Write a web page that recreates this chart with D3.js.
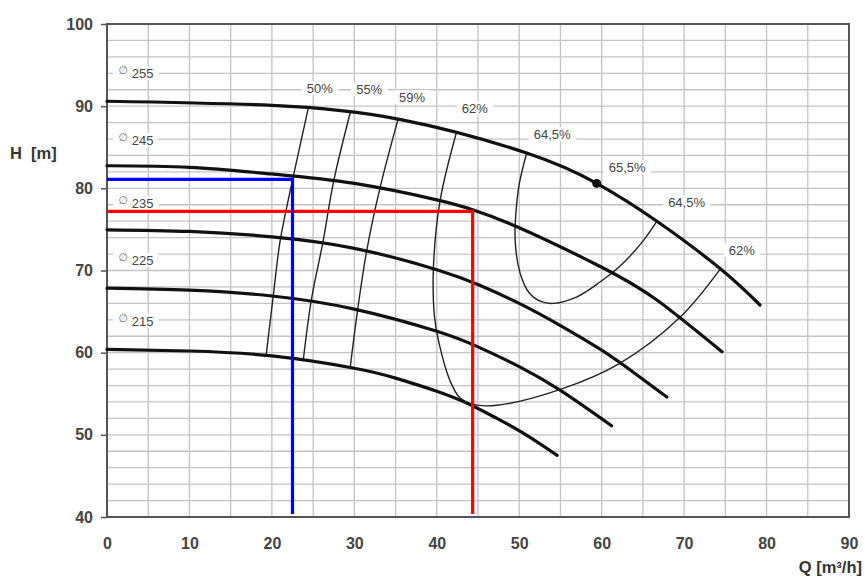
<!DOCTYPE html>
<html>
<head>
<meta charset="utf-8">
<script src="https://cdn.jsdelivr.net/npm/d3@7"></script>
<style>
  body { margin: 0; background: #fff; }
  text { font-family: "Liberation Sans", Arial, sans-serif; }
</style>
</head>
<body>
<svg id="chart" width="865" height="581"></svg>
<script>
// Axis ticks
const xTicks = [0, 10, 20, 30, 40, 50, 60, 70, 80, 90];
const yTicks = [40, 50, 60, 70, 80, 90, 100];

// Impeller diameters and their H–Q curves [Q m³/h, H m]
const diameters = ["255", "245", "235", "225", "215"];
const curve255 = [[0, 90.6], [20, 90.1], [35.5, 88.4], [50.9, 84.3], [59.4, 80.6], [66.7, 76.0], [74.4, 70.2], [79.2, 65.8]];
const curve245 = [[0, 82.75], [10, 82.55], [20, 81.75], [30, 80.6], [40, 78.6], [44.35, 77.4], [50, 75.2], [60, 70.4], [66.7, 66.4], [74.6, 60.1]];
const curve235 = [[0, 74.95], [10, 74.75], [20, 74.1], [30, 72.7], [40, 70.1], [45.2, 68.2], [50, 66.0], [55, 63.3], [60, 60.3], [64, 57.5], [67.9, 54.6]];
const curve225 = [[0, 67.85], [10, 67.6], [20, 66.9], [30, 65.3], [40, 62.6], [45, 60.7], [50, 58.3], [55, 55.4], [61.2, 51.1]];
const curve215 = [[0, 60.4], [10, 60.2], [20, 59.6], [30, 58.1], [35, 56.9], [40, 55.3], [44, 53.7], [47.3, 52.0], [50.5, 50.2], [54.6, 47.5]];
const hqCurves = [curve255, curve245, curve235, curve225, curve215];
// Diameter label anchors [Q, H]
const diameterLabelPos = [[1.35, 94.0], [1.35, 85.9], [1.35, 78.2], [1.35, 71.3], [1.35, 63.9]];

// Iso-efficiency lines [Q, H]
const eff50 = [[24.4, 89.7], [22.6, 81.45], [21.0, 73.6], [20.2, 67.2], [19.3, 59.65]];
const eff55 = [[29.5, 89.2], [27.5, 80.9], [26.2, 73.5], [24.8, 66.5], [23.8, 59.05]];
const eff59 = [[35.3, 88.4], [33.1, 80.0], [31.5, 72.4], [30.4, 65.2], [29.5, 58.2]];
const eff62 = [[42.4, 86.85], [40.4, 78.5], [39.6, 70.5], [39.7, 64.6], [40.2, 61.5], [41.6, 56.6], [42.8, 54.5], [44.4, 53.7], [47.3, 53.6], [54.9, 55.5], [62.2, 58.7], [69.5, 64.3], [74.4, 70.2]];
const eff645 = [[50.9, 84.3], [50.0, 80.5], [49.6, 77.0], [49.5, 73.7], [50.1, 69.7], [51.2, 67.3], [52.7, 66.2], [54.2, 66.0], [57.0, 66.8], [59.8, 68.6], [62.3, 70.6], [65.1, 73.7], [66.7, 76.0]];
const effLines = [eff50, eff55, eff59, eff62, eff645];

// Efficiency labels and anchors [Q, H]
const effLabels = ["50%", "55%", "59%", "62%", "64,5%", "65,5%", "64,5%", "62%"];
const effLabelPos = [[25.8, 92.2], [31.8, 92.05], [37.0, 91.1], [44.6, 89.75], [54.0, 86.6], [63.1, 82.55], [70.3, 78.3], [77.0, 72.5]];

// Best efficiency point on the 255 curve
const bep = [59.4, 80.6];

// Duty points: [Q, H]
const dutyBlue = [22.5, 81.1];
const dutyRed = [44.35, 77.2];

const svg = d3.select("#chart");
const plotLeft = 107, plotRight = 849, plotTop = 24, plotBottom = 517;

const x = d3.scaleLinear().domain([0, 90]).range([plotLeft, plotRight]);
const y = d3.scaleLinear().domain([40, 100]).range([plotBottom, plotTop]);

// Grid
const grid = svg.append("g").attr("stroke", "#c4c4c4").attr("stroke-width", 1.3);
grid.selectAll(".gx").data(d3.range(5, 90, 5)).join("line")
  .attr("x1", d => x(d)).attr("x2", d => x(d))
  .attr("y1", plotTop).attr("y2", plotBottom);
grid.selectAll(".gy").data(d3.range(42, 100, 2)).join("line")
  .attr("x1", plotLeft).attr("x2", plotRight)
  .attr("y1", d => y(d)).attr("y2", d => y(d));

// Frame
svg.append("rect").attr("x", plotLeft).attr("y", plotTop)
  .attr("width", plotRight - plotLeft).attr("height", plotBottom - plotTop)
  .attr("fill", "none").attr("stroke", "#555").attr("stroke-width", 2);

// Y axis
const yAxis = svg.append("g").attr("transform", `translate(${plotLeft},0)`)
  .call(d3.axisLeft(y).tickValues(yTicks).tickSize(6).tickPadding(8));
yAxis.select(".domain").remove();
yAxis.selectAll("line").attr("stroke", "#555").attr("stroke-width", 1.5);
yAxis.selectAll("text").attr("font-size", 16).attr("font-weight", "bold").attr("fill", "#444")
  .style("font-family", "'Liberation Sans', Arial, sans-serif");

// X axis
const xAxis = svg.append("g").attr("transform", `translate(0,${plotBottom})`)
  .call(d3.axisBottom(x).tickValues(xTicks).tickSize(0).tickPadding(21));
xAxis.select(".domain").remove();
xAxis.selectAll("text").attr("font-size", 16).attr("font-weight", "bold").attr("fill", "#444")
  .style("font-family", "'Liberation Sans', Arial, sans-serif");

// Axis titles
svg.append("text").attr("x", 10).attr("y", 159)
  .attr("font-size", 16.5).attr("font-weight", "bold").attr("fill", "#333")
  .attr("xml:space", "preserve").style("white-space", "pre")
  .text("H  [m]");
svg.append("text").attr("x", 862).attr("y", 573).attr("text-anchor", "end")
  .attr("font-size", 16.5).attr("font-weight", "bold").attr("fill", "#333")
  .text("Q [m³/h]");

// Labels with white boxes over the grid
function boxedLabel(g, cy, build) {
  const grp = g.append("g");
  const rect = grp.append("rect").attr("fill", "#fff");
  const t = build(grp);
  const bb = t.node().getBBox();
  rect.attr("x", bb.x - 5).attr("y", cy - 7).attr("width", bb.width + 10).attr("height", 14);
  return grp;
}

const labels = svg.append("g");
effLabels.forEach((s, i) => {
  const cx = x(effLabelPos[i][0]), cy = y(effLabelPos[i][1]);
  boxedLabel(labels, cy, g => g.append("text")
    .attr("x", cx).attr("y", cy).attr("dy", "0.36em").attr("text-anchor", "middle")
    .attr("font-size", 13).attr("fill", "#444").text(s));
});
diameters.forEach((s, i) => {
  const lx = x(diameterLabelPos[i][0]), cy = y(diameterLabelPos[i][1]);
  boxedLabel(labels, cy, g => {
    const t = g.append("text").attr("x", lx).attr("y", cy).attr("fill", "#444");
    t.append("tspan").attr("font-size", 11).attr("dy", 1)
      .style("font-family", "'DejaVu Sans', sans-serif").attr("fill", "#777").text("∅");
    t.append("tspan").attr("font-size", 13).attr("dx", 4).attr("dy", 4).text(s);
    return t;
  });
});

// Iso-efficiency lines
const effLine = d3.line().x(d => x(d[0])).y(d => y(d[1])).curve(d3.curveCatmullRom.alpha(0.5));
svg.append("g").selectAll("path").data(effLines).join("path")
  .attr("d", effLine).attr("fill", "none").attr("stroke", "#222").attr("stroke-width", 1.4);

// H–Q curves
const hqLine = d3.line().x(d => x(d[0])).y(d => y(d[1])).curve(d3.curveNatural);
svg.append("g").selectAll("path").data(hqCurves).join("path")
  .attr("d", hqLine).attr("fill", "none").attr("stroke", "#111")
  .attr("stroke-width", 3.2).attr("stroke-linecap", "round");

// Best efficiency point
svg.append("circle").attr("cx", x(bep[0])).attr("cy", y(bep[1])).attr("r", 4.5).attr("fill", "#111");

// Duty point lines
function dutyLines(p, color) {
  svg.append("path")
    .attr("d", `M${x(0)},${y(p[1])}H${x(p[0])}V${y(40) - 3}`)
    .attr("fill", "none").attr("stroke", color).attr("stroke-width", 3.2);
}
dutyLines(dutyRed, "#ff0000");
dutyLines(dutyBlue, "#0000ff");
</script>
</body>
</html>
